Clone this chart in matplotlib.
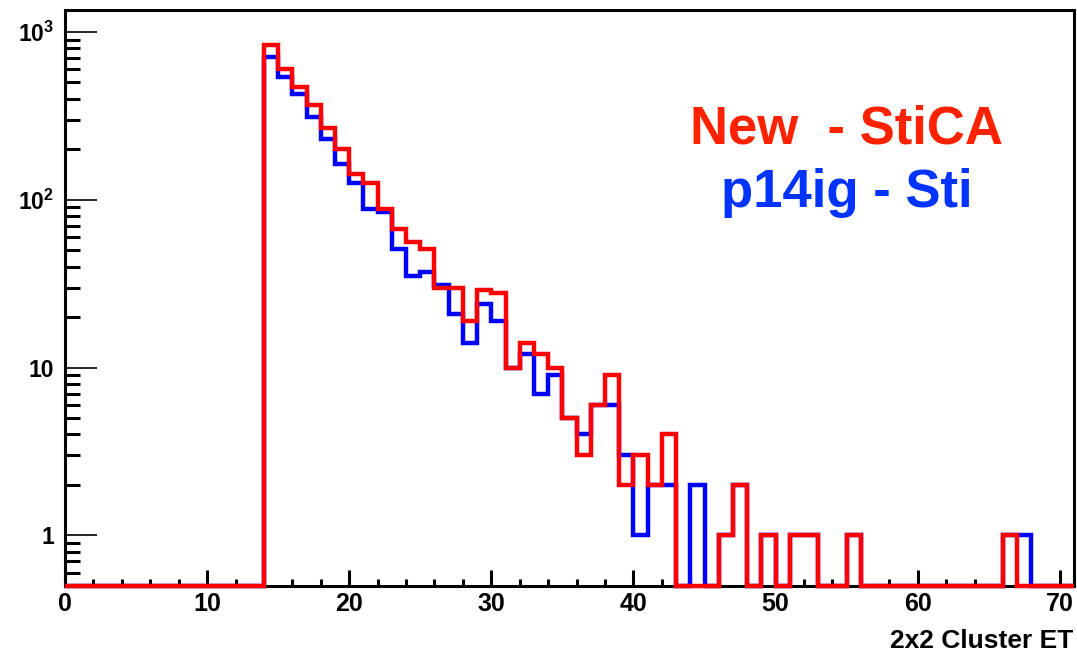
# Plot 2x2 cluster ET comparison (New StiCA vs p14ig Sti)

import numpy as np
from matplotlib import pyplot as plt
from matplotlib.ticker import FixedLocator, LogLocator, NullFormatter

# Histogram binning: unit bins from 0 to 71
n_bins = 71
first_bin = 14

# Counts for bins starting at first_bin (14..67)
red_counts = [830, 600, 470, 365, 268, 200, 143, 125, 88, 67,
              56, 51, 30, 30, 19, 29, 28, 10, 14, 12,
              10, 5, 3, 6, 9, 2, 3, 2, 4, 0,
              0, 0, 1, 2, 0, 1, 0, 1, 1, 0,
              0, 1, 0, 0, 0, 0, 0, 0, 0, 0,
              0, 0, 1, 0]
blue_counts = [710, 540, 428, 312, 231, 164, 125, 88, 84, 51,
               35, 37, 31, 21, 14, 24, 19, 10, 12, 7,
               9, 5, 4, 6, 6, 3, 1, 2, 2, 0,
               2, 0, 1, 2, 0, 1, 0, 1, 1, 0,
               0, 1, 0, 0, 0, 0, 0, 0, 0, 0,
               0, 0, 1, 1]

y_labels = ["1", "10", r"$\mathregular{10^{2}}$", r"$\mathregular{10^{3}}$"]
y_ticks = [1, 10, 100, 1000]

# Format plot
plt.rcParams["font.family"] = "Liberation Sans"
plt.rcParams["font.weight"] = "bold"
plt.rcParams["mathtext.fontset"] = "custom"
plt.rcParams["mathtext.rm"] = "Liberation Sans:bold"
plt.rcParams["mathtext.it"] = "Liberation Sans:bold:italic"
plt.rcParams["mathtext.bf"] = "Liberation Sans:bold"

ymin, ymax = 0.5, 1350

def full_hist(counts):
    h = np.zeros(n_bins)
    h[first_bin:first_bin + len(counts)] = counts
    # empty bins are drawn on the lower frame, as ROOT does
    return np.where(h > 0, h, ymin)

edges = np.arange(n_bins + 1)

fig = plt.figure(figsize=(10.77, 6.57), dpi=100)
ax = fig.add_axes([65 / 1077, 1 - 586 / 657, 1009 / 1077, 576 / 657])

ax.stairs(full_hist(blue_counts), edges, color="#0000ff", linewidth=3.2,
          baseline=None, zorder=3, clip_on=False)
ax.stairs(full_hist(red_counts), edges, color="#ff0000", linewidth=3.2,
          baseline=None, zorder=4, clip_on=False)

ax.set_yscale("log")
ax.set_xlim(0, 71)
ax.set_ylim(ymin, ymax)

# Ticks
ax.set_xticks(np.arange(0, 71, 10))
ax.xaxis.set_minor_locator(FixedLocator(np.arange(0, 71, 2)))
ax.yaxis.set_major_locator(FixedLocator(y_ticks))
ax.set_yticklabels(y_labels)
ax.yaxis.set_minor_locator(LogLocator(base=10, subs=np.arange(2, 10)))
ax.yaxis.set_minor_formatter(NullFormatter())

ax.tick_params(axis="x", which="major", direction="in", length=11.5, width=2.2,
               labelsize=18, pad=4)
ax.tick_params(axis="x", which="minor", direction="in", length=5.4, width=2.2)
ax.tick_params(axis="y", which="major", direction="in", length=23, width=1.2,
               labelsize=16.5, pad=8)
ax.tick_params(axis="y", which="minor", direction="in", length=11, width=2.2)

for spine in ax.spines.values():
    spine.set_linewidth(2.2)

# Axis label
fig.text(1073 / 1077, 1 - 648 / 657, "2x2 Cluster ET", ha="right",
         va="baseline", fontsize=19, fontweight="bold")

# Legend text
fig.text(847 / 1077, 1 - 143 / 657, "New  - StiCA", ha="center",
         va="baseline", fontsize=38, fontweight="bold", color="#ff2200")
fig.text(847 / 1077, 1 - 207 / 657, "p14ig - Sti", ha="center",
         va="baseline", fontsize=38, fontweight="bold", color="#0033ff")

# Save plot
fig.savefig("out.png", dpi=100)
plt.close(fig)
